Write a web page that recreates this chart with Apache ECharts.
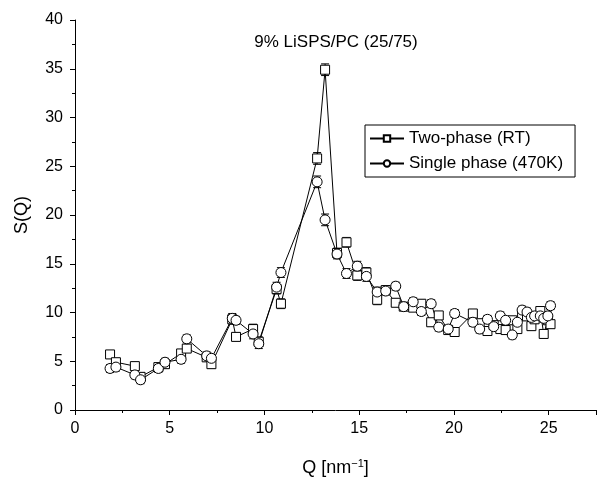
<!DOCTYPE html>
<html><head><meta charset="utf-8">
<script src="https://cdn.jsdelivr.net/npm/echarts@6/dist/echarts.min.js"></script>
<style>html,body{margin:0;padding:0;background:#fff}#c{width:604px;height:482px}</style>
</head><body><div id="c"></div>
<script>
var q = [1.85,2.16,3.16,3.46,4.4,4.75,5.6,5.9,6.95,7.2,8.3,8.5,9.4,9.7,10.64,10.87,12.78,13.2,13.83,14.33,14.9,15.38,15.95,16.4,16.93,17.35,17.85,18.28,18.8,19.2,19.7,20.04,21.0,21.36,21.77,22.1,22.45,22.73,23.08,23.35,23.6,23.86,24.09,24.26,24.56,24.74,24.96,25.1];
var sTwo = [5.7,4.9,4.5,3.4,4.4,4.7,5.8,6.3,5.4,4.7,9.3,7.5,8.3,7.0,12.4,10.9,25.8,34.9,16.1,17.2,13.8,14.1,11.3,12.3,11.0,10.6,10.5,10.9,9.0,9.7,8.2,8.0,9.9,8.9,8.1,8.7,8.3,8.2,9.2,8.3,9.7,9.6,8.6,9.3,10.15,7.8,9.2,8.8];
var sSingle = [4.26,4.4,3.6,3.1,4.26,4.9,5.2,7.3,5.55,5.3,9.4,9.2,7.8,6.8,12.6,14.1,23.4,19.5,16.0,14.0,14.75,13.7,12.1,12.2,12.7,10.6,11.1,10.1,10.9,8.5,8.3,9.9,9.0,8.3,9.3,8.55,9.65,9.2,7.7,9.0,10.25,10.05,9.5,9.65,9.65,9.4,9.65,10.7];
var errTwo = [0.4,0.4,0.4,0.4,0.4,0.4,0.4,0.4,0.4,0.4,0.5,0.4,0.5,0.5,0.5,0.5,0.6,0.6,0.5,0.5,0.5,0.5,0.5,0.4,0.4,0.4,0.4,0.4,0.4,0.4,0.4,0.4,0.4,0.4,0.4,0.4,0.4,0.4,0.4,0.4,0.4,0.4,0.4,0.4,0.4,0.4,0.4,0.4];
var errSingle = [0.4,0.4,0.4,0.4,0.4,0.4,0.4,0.4,0.4,0.4,0.5,0.4,0.5,0.5,0.5,0.5,0.6,0.6,0.5,0.5,0.5,0.5,0.5,0.4,0.4,0.4,0.4,0.4,0.4,0.4,0.4,0.4,0.4,0.4,0.4,0.4,0.4,0.4,0.4,0.4,0.4,0.4,0.4,0.4,0.4,0.4,0.4,0.4];
var xTicks = [0,5,10,15,20,25];
var names = ['Two-phase (RT)','Single phase (470K)'];
var FONT = 'Liberation Sans, Arial, sans-serif';

function pts(ys){ return q.map(function(x,i){return [x,ys[i]];}); }
function errData(ys,es){ return q.map(function(x,i){return [x,ys[i]-es[i],ys[i]+es[i]];}); }
function errRender(params, api){
  var x = api.value(0), lo = api.value(1), hi = api.value(2);
  var a = api.coord([x,lo]), b = api.coord([x,hi]);
  var w = 4;
  var st = {stroke:'#000', lineWidth:1};
  return {type:'group', children:[
    {type:'line', shape:{x1:a[0],y1:a[1],x2:b[0],y2:b[1]}, style:st},
    {type:'line', shape:{x1:a[0]-w,y1:a[1],x2:a[0]+w,y2:a[1]}, style:st},
    {type:'line', shape:{x1:b[0]-w,y1:b[1],x2:b[0]+w,y2:b[1]}, style:st}
  ]};
}

var chart = echarts.init(document.getElementById('c'), null, {renderer:'canvas'});
chart.setOption({
  animation:false,
  backgroundColor:'#fff',
  textStyle:{fontFamily:FONT},
  title:{text:'9% LiSPS/PC (25/75)', left:331, top:29, textAlign:'center',
    textStyle:{fontFamily:FONT, fontSize:17, fontWeight:'normal', color:'#000'}},
  grid:{left:75, right:8, top:20, bottom:71},
  legend:{data:names, orient:'vertical', left:365, top:125, itemWidth:34, itemHeight:8, itemGap:8,
    padding:[5,12,5,4], borderColor:'#000', borderWidth:1, backgroundColor:'#fff',
    textStyle:{fontFamily:FONT, fontSize:17, color:'#000'}},
  xAxis:{type:'value', min:0, max:27.5, interval:5,
    name:'Q [nm{sup|\u22121}]', nameLocation:'middle', nameGap:48,
    nameTextStyle:{fontFamily:FONT, fontSize:18, color:'#000', rich:{sup:{fontSize:11, verticalAlign:'top', padding:[0,0,9,0], fontFamily:FONT, color:'#000'}}},
    axisLine:{onZero:false, lineStyle:{color:'#000', width:1}},
    axisTick:{length:5, lineStyle:{color:'#000'}},
    minorTick:{show:true, splitNumber:2, length:3, lineStyle:{color:'#000'}},
    splitLine:{show:false},
    axisLabel:{fontFamily:FONT, fontSize:16, color:'#000', margin:11,
      formatter:function(v){return xTicks.indexOf(v)>=0 ? String(v) : '';}}},
  yAxis:{type:'value', min:0, max:40, interval:5,
    name:'S(Q)', nameLocation:'middle', nameGap:44,
    nameTextStyle:{fontFamily:FONT, fontSize:18, color:'#000'},
    axisLine:{show:true, onZero:false, lineStyle:{color:'#000', width:1}},
    axisTick:{show:true, length:5, lineStyle:{color:'#000'}},
    minorTick:{show:true, splitNumber:2, length:3, lineStyle:{color:'#000'}},
    splitLine:{show:false},
    axisLabel:{fontFamily:FONT, fontSize:16, color:'#000', margin:12}},
  series:[
    {type:'custom', name:'errTwo', renderItem:errRender, data:errData(sTwo,errTwo), z:1, silent:true},
    {type:'custom', name:'errSingle', renderItem:errRender, data:errData(sSingle,errSingle), z:1, silent:true},
    {type:'line', name:names[0], data:pts(sTwo), symbol:'rect', symbolSize:9, showAllSymbol:true,
      lineStyle:{color:'#000', width:1}, itemStyle:{color:'#fff', borderColor:'#000', borderWidth:1}, z:3},
    {type:'line', name:names[1], data:pts(sSingle), symbol:'circle', symbolSize:10, showAllSymbol:true,
      lineStyle:{color:'#000', width:1}, itemStyle:{color:'#fff', borderColor:'#000', borderWidth:1}, z:3}
  ]
});
</script></body></html>
